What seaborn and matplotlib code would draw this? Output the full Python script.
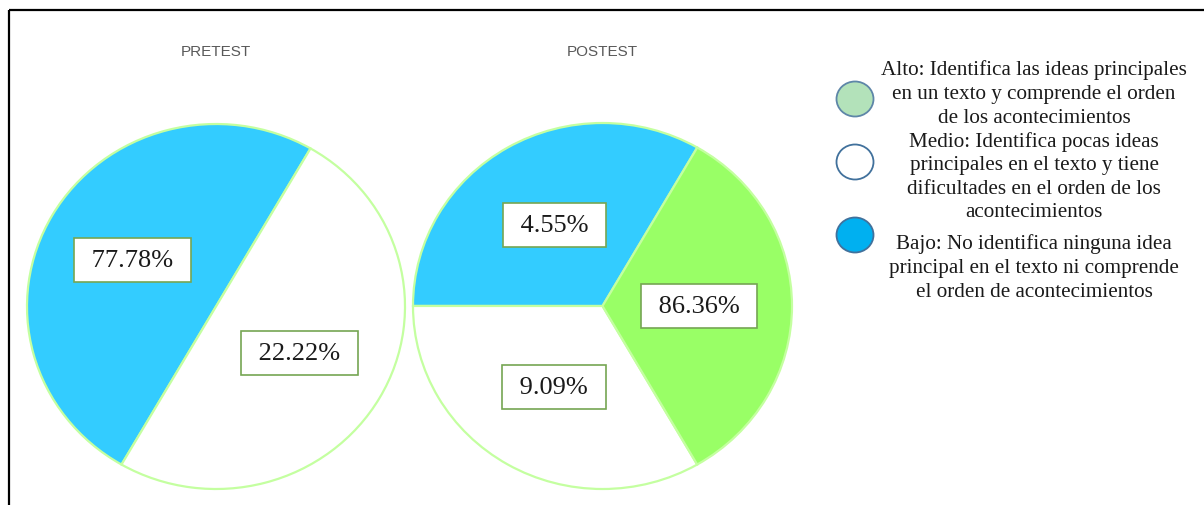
import matplotlib
matplotlib.use("Agg")
import matplotlib.pyplot as plt
from matplotlib.patches import Ellipse
import seaborn as sns

# slice shares as drawn in the picture (the printed percentages are separate text)
pretest_shares = [50.0, 50.0]          # Bajo, Medio
postest_shares = [33.33, 33.33, 33.34]  # Bajo, Medio, Alto
pretest_labels = ["77.78%", "22.22%"]
postest_labels = ["4.55%", "9.09%", "86.36%"]
pretest_colors = ["#33CCFF", "#FFFFFF"]
postest_colors = ["#33CCFF", "#FFFFFF", "#99FF66"]
titles = ["PRETEST", "POSTEST"]

legend_labels = [
    "Alto: Identifica las ideas principales\nen un texto y comprende el orden\nde los acontecimientos",
    "Medio: Identifica pocas ideas\nprincipales en el texto y tiene\ndificultades en el orden de los\nacontecimientos",
    "Bajo: No identifica ninguna idea\nprincipal en el texto ni comprende\nel orden de acontecimientos",
]
legend_fill = ["#B3E2BA", "#FFFFFF", "#00B0F0"]
legend_edge = ["#5E86A8", "#41719C", "#41719C"]

sns.set_theme(style="white")

W, H = 1204, 506
fig = plt.figure(figsize=(W / 100, H / 100), dpi=100)
fig.patch.set_facecolor("white")

def px_axes(x0, y0, x1, y1):
    # pixel box (top-left origin) -> figure axes
    return fig.add_axes([x0 / W, (H - y1) / H, (x1 - x0) / W, (y1 - y0) / H])

def draw_pie(ax, shares, labels, colors):
    ax.pie(shares, labels=labels, colors=colors, startangle=60,
           counterclock=True, labeldistance=0.51,
           wedgeprops=dict(edgecolor="#C4FFA0", linewidth=1.6),
           textprops=dict(family="Liberation Serif", fontsize=19, color="#1A1A1A",
                          ha="center", va="center",
                          bbox=dict(boxstyle="square,pad=0.42", fc="white",
                                    ec="#76A653", lw=1.2)))
    ax.set_aspect("auto")
    ax.set_xlim(-1, 1)
    ax.set_ylim(-1, 1)
    ax.axis("off")

# a space each side so the boxes come out wide like the reference
pad = lambda s: " " + s + " "
ax1 = px_axes(27, 125, 405, 490)
draw_pie(ax1, pretest_shares, [pad(s) for s in pretest_labels], pretest_colors)
ax2 = px_axes(413, 124, 792, 490)
draw_pie(ax2, postest_shares, [pad(s) for s in postest_labels], postest_colors)

# overlay in pixel coordinates for frame, titles and legend
ov = fig.add_axes([0, 0, 1, 1], zorder=-1)
ov.set_xlim(0, W)
ov.set_ylim(H, 0)
ov.axis("off")
ov.plot([9, W], [11, 11], color="black", lw=1.6, solid_capstyle="butt")
ov.plot([9, 9], [11, H], color="black", lw=1.6, solid_capstyle="butt")

for t, cx in zip(titles, [216, 602]):
    ov.text(cx, 52, t, ha="center", va="center", fontsize=11,
            family="Liberation Sans", color="#595959")

for y, fc, ec in zip([100, 163, 236], legend_fill, legend_edge):
    ov.add_patch(Ellipse((855, y), 37, 35, fc=fc, ec=ec, lw=1.3))

# each legend entry is its own centred text block
for lab, yc in zip(legend_labels, [94, 177, 268]):
    ov.text(1034, yc, lab, ha="center", va="center",
            fontsize=15.2, family="Liberation Serif", color="#1A1A1A",
            linespacing=1.33)

fig.savefig("out.png", dpi=100)
